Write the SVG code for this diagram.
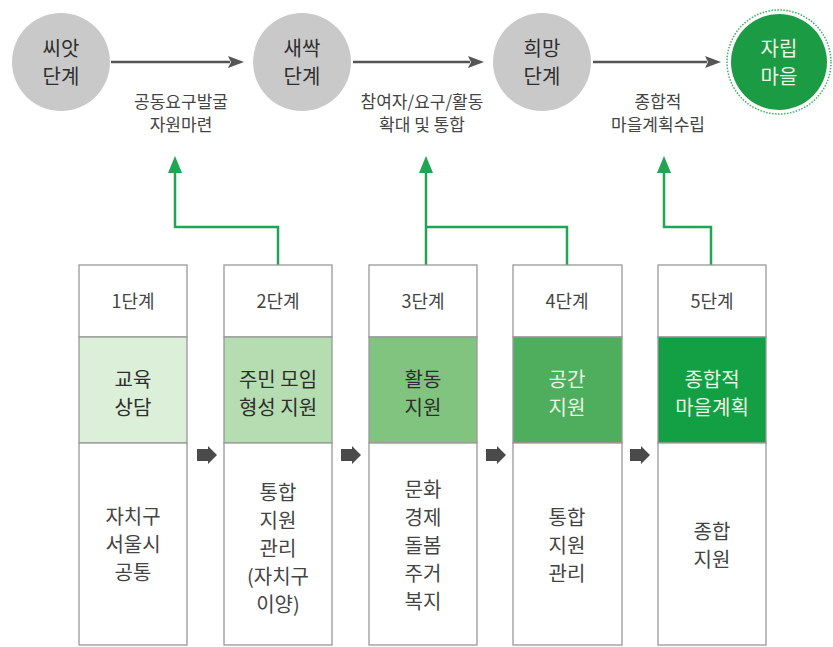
<svg xmlns="http://www.w3.org/2000/svg" width="833" height="647" viewBox="0 0 833 647">
<defs>
<style>
text{font-family:"Noto Sans CJK KR","Noto Sans",sans-serif;text-anchor:middle;fill:#333}
.c{font-size:20px;font-weight:400;fill:#2e2e2e}
.lbl{font-size:17px;fill:#444}
.hd{font-size:18px;fill:#444}
.mid{font-size:20px;font-weight:400;fill:#2e2e2e}
.lt{fill:#eaf6e4}
.bt{font-size:20px;fill:#444}
.box{fill:#fff;stroke:#999;stroke-width:1.3}
.gline{fill:none;stroke:#22a455;stroke-width:2.5}
.kline{stroke:#555;stroke-width:2.5}
</style>
<path id="kh" d="M0,-6 L16,0 L0,6 L3,0 z" fill="#555"/>
<path id="blk" d="M0,-6 L11,-6 L11,-9 L20,0 L11,9 L11,6 L0,6 z" fill="#4a4a4a"/>
</defs>
<rect width="833" height="647" fill="#fff"/>

<g id="connectors">
<line class="kline" x1="111" y1="62" x2="230" y2="62"/>
<use href="#kh" x="228" y="62"/>
<line class="kline" x1="353" y1="62" x2="470" y2="62"/>
<use href="#kh" x="468" y="62"/>
<line class="kline" x1="593" y1="62" x2="707" y2="62"/>
<use href="#kh" x="705" y="62"/>
<path class="gline" d="M278,265 V227 H175 V165"/>
<path class="gline" d="M426,265 V165 M426,227 H567 V265"/>
<path class="gline" d="M711,265 V227 H664 V165"/>
<path d="M175,156 L182,173 L168,173 z" fill="#22a455"/>
<path d="M426,156 L433,173 L419,173 z" fill="#22a455"/>
<path d="M664,156 L671,173 L657,173 z" fill="#22a455"/>
<use href="#blk" x="197" y="455"/>
<use href="#blk" x="341" y="455"/>
<use href="#blk" x="486" y="455"/>
<use href="#blk" x="630" y="455"/>
</g>

<g id="seed">
<circle cx="61" cy="62" r="49" fill="#c9c9c9"/>
<text class="c" x="61" y="56">씨앗</text>
<text class="c" x="61" y="84">단계</text>
</g>
<g id="sprout">
<circle cx="302" cy="62" r="49" fill="#c9c9c9"/>
<text class="c" x="302" y="56">새싹</text>
<text class="c" x="302" y="84">단계</text>
</g>
<g id="hope">
<circle cx="542" cy="62" r="49" fill="#c9c9c9"/>
<text class="c" x="542" y="56">희망</text>
<text class="c" x="542" y="84">단계</text>
</g>
<g id="village">
<circle cx="779" cy="62" r="52" fill="none" stroke="#3fae5f" stroke-width="1.5" stroke-dasharray="1.5 1.5"/>
<circle cx="779" cy="62" r="48" fill="#1c9b45"/>
<text class="c" x="779" y="56" style="fill:#eaf6e4">자립</text>
<text class="c" x="779" y="84" style="fill:#eaf6e4">마을</text>
</g>

<g id="label1">
<text class="lbl" x="181" y="108">공동요구발굴</text>
<text class="lbl" x="181" y="131">자원마련</text>
</g>
<g id="label2">
<text class="lbl" x="422" y="108">참여자/요구/활동</text>
<text class="lbl" x="422" y="131">확대 및 통합</text>
</g>
<g id="label3">
<text class="lbl" x="658" y="108">종합적</text>
<text class="lbl" x="658" y="131">마을계획수립</text>
</g>

<g id="step1">
<rect class="box" x="79" y="265" width="108" height="72"/>
<rect class="box" x="79" y="337" width="108" height="106" style="fill:#dcefd8"/>
<rect class="box" x="79" y="443" width="108" height="202"/>
<text class="hd" x="133" y="308">1단계</text>
<text class="mid" x="133" y="387">교육</text>
<text class="mid" x="133" y="415">상담</text>
<text class="bt" x="133" y="524">자치구</text>
<text class="bt" x="133" y="552">서울시</text>
<text class="bt" x="133" y="580">공통</text>
</g>
<g id="step2">
<rect class="box" x="224" y="265" width="108" height="72"/>
<rect class="box" x="224" y="337" width="108" height="106" style="fill:#b6ddb1"/>
<rect class="box" x="224" y="443" width="108" height="202"/>
<text class="hd" x="278" y="308">2단계</text>
<text class="mid" x="278" y="387">주민 모임</text>
<text class="mid" x="278" y="415">형성 지원</text>
<text class="bt" x="278" y="500">통합</text>
<text class="bt" x="278" y="528">지원</text>
<text class="bt" x="278" y="556">관리</text>
<text class="bt" x="278" y="584">(자치구</text>
<text class="bt" x="278" y="612">이양)</text>
</g>
<g id="step3">
<rect class="box" x="369" y="265" width="108" height="72"/>
<rect class="box" x="369" y="337" width="108" height="106" style="fill:#80c47f"/>
<rect class="box" x="369" y="443" width="108" height="202"/>
<text class="hd" x="423" y="308">3단계</text>
<text class="mid" x="423" y="387">활동</text>
<text class="mid" x="423" y="415">지원</text>
<text class="bt" x="423" y="497">문화</text>
<text class="bt" x="423" y="525">경제</text>
<text class="bt" x="423" y="553">돌봄</text>
<text class="bt" x="423" y="581">주거</text>
<text class="bt" x="423" y="609">복지</text>
</g>
<g id="step4">
<rect class="box" x="513" y="265" width="109" height="72"/>
<rect class="box" x="513" y="337" width="109" height="106" style="fill:#4fae5e"/>
<rect class="box" x="513" y="443" width="109" height="202"/>
<text class="hd" x="567" y="308">4단계</text>
<text class="mid lt" x="567" y="387">공간</text>
<text class="mid lt" x="567" y="415">지원</text>
<text class="bt" x="567" y="525">통합</text>
<text class="bt" x="567" y="553">지원</text>
<text class="bt" x="567" y="581">관리</text>
</g>
<g id="step5">
<rect class="box" x="658" y="265" width="108" height="72"/>
<rect class="box" x="658" y="337" width="108" height="106" style="fill:#139f44"/>
<rect class="box" x="658" y="443" width="108" height="202"/>
<text class="hd" x="712" y="308">5단계</text>
<text class="mid lt" x="712" y="387">종합적</text>
<text class="mid lt" x="712" y="415">마을계획</text>
<text class="bt" x="712" y="539">종합</text>
<text class="bt" x="712" y="567">지원</text>
</g>
</svg>
